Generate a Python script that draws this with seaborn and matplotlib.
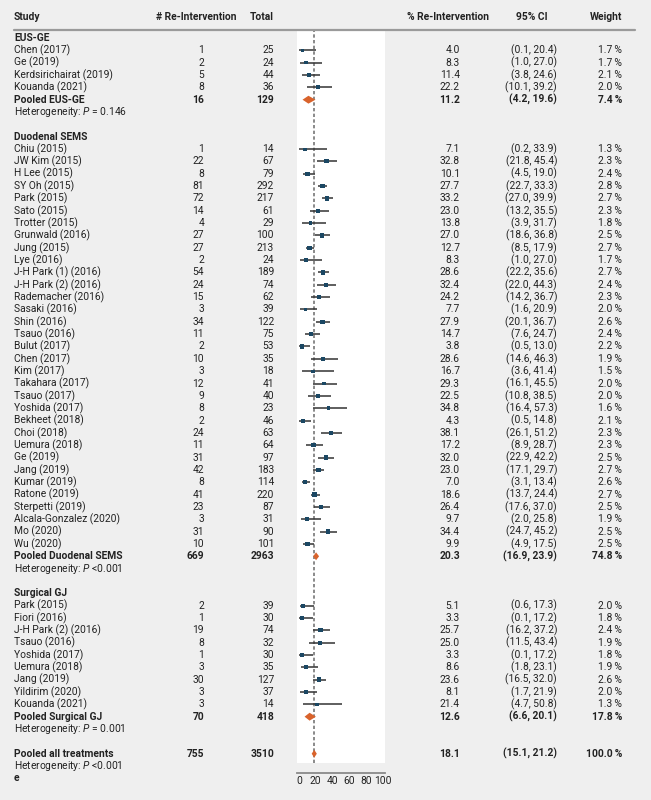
import matplotlib
matplotlib.use("Agg")
import matplotlib.pyplot as plt
import numpy as np
import pandas as pd
import seaborn as sns
from matplotlib.lines import Line2D
from matplotlib.transforms import blended_transform_factory

# ====================================================
# DATA
# ====================================================

groups = ["EUS-GE", "Duodenal SEMS", "Surgical GJ"]

eus_study = ["Chen (2017)", "Ge (2019)", "Kerdsirichairat (2019)", "Kouanda (2021)"]
eus_events = [1, 2, 5, 8]
eus_total = [25, 24, 44, 36]
eus_pct = [4.0, 8.3, 11.4, 22.2]
eus_lo = [0.1, 1.0, 3.8, 10.1]
eus_hi = [20.4, 27.0, 24.6, 39.2]
eus_weight = [1.7, 1.7, 2.1, 2.0]

sems_study = ["Chiu (2015)", "JW Kim (2015)", "H Lee (2015)", "SY Oh (2015)", "Park (2015)",
              "Sato (2015)", "Trotter (2015)", "Grunwald (2016)", "Jung (2015)", "Lye (2016)",
              "J-H Park (1) (2016)", "J-H Park (2) (2016)", "Rademacher (2016)", "Sasaki (2016)",
              "Shin (2016)", "Tsauo (2016)", "Bulut (2017)", "Chen (2017)", "Kim (2017)",
              "Takahara (2017)", "Tsauo (2017)", "Yoshida (2017)", "Bekheet (2018)", "Choi (2018)",
              "Uemura (2018)", "Ge (2019)", "Jang (2019)", "Kumar (2019)", "Ratone (2019)",
              "Sterpetti (2019)", "Alcala-Gonzalez (2020)", "Mo (2020)", "Wu (2020)"]
sems_events = [1, 22, 8, 81, 72, 14, 4, 27, 27, 2, 54, 24, 15, 3, 34, 11, 2, 10, 3, 12, 9, 8,
               2, 24, 11, 31, 42, 8, 41, 23, 3, 31, 10]
sems_total = [14, 67, 79, 292, 217, 61, 29, 100, 213, 24, 189, 74, 62, 39, 122, 75, 53, 35, 18,
              41, 40, 23, 46, 63, 64, 97, 183, 114, 220, 87, 31, 90, 101]
sems_pct = [7.1, 32.8, 10.1, 27.7, 33.2, 23.0, 13.8, 27.0, 12.7, 8.3, 28.6, 32.4, 24.2, 7.7,
            27.9, 14.7, 3.8, 28.6, 16.7, 29.3, 22.5, 34.8, 4.3, 38.1, 17.2, 32.0, 23.0, 7.0,
            18.6, 26.4, 9.7, 34.4, 9.9]
sems_lo = [0.2, 21.8, 4.5, 22.7, 27.0, 13.2, 3.9, 18.6, 8.5, 1.0, 22.2, 22.0, 14.2, 1.6, 20.1,
           7.6, 0.5, 14.6, 3.6, 16.1, 10.8, 16.4, 0.5, 26.1, 8.9, 22.9, 17.1, 3.1, 13.7, 17.6,
           2.0, 24.7, 4.9]
sems_hi = [33.9, 45.4, 19.0, 33.3, 39.9, 35.5, 31.7, 36.8, 17.9, 27.0, 35.6, 44.3, 36.7, 20.9,
           36.7, 24.7, 13.0, 46.3, 41.4, 45.5, 38.5, 57.3, 14.8, 51.2, 28.7, 42.2, 29.7, 13.4,
           24.4, 37.0, 25.8, 45.2, 17.5]
sems_weight = [1.3, 2.3, 2.4, 2.8, 2.7, 2.3, 1.8, 2.5, 2.7, 1.7, 2.7, 2.4, 2.3, 2.0, 2.6, 2.4,
               2.2, 1.9, 1.5, 2.0, 2.0, 1.6, 2.1, 2.3, 2.3, 2.5, 2.7, 2.6, 2.7, 2.5, 1.9, 2.5, 2.5]

gj_study = ["Park (2015)", "Fiori (2016)", "J-H Park (2) (2016)", "Tsauo (2016)", "Yoshida (2017)",
            "Uemura (2018)", "Jang (2019)", "Yildirim (2020)", "Kouanda (2021)"]
gj_events = [2, 1, 19, 8, 1, 3, 30, 3, 3]
gj_total = [39, 30, 74, 32, 30, 35, 127, 37, 14]
gj_pct = [5.1, 3.3, 25.7, 25.0, 3.3, 8.6, 23.6, 8.1, 21.4]
gj_lo = [0.6, 0.1, 16.2, 11.5, 0.1, 1.8, 16.5, 1.7, 4.7]
gj_hi = [17.3, 17.2, 37.2, 43.4, 17.2, 23.1, 32.0, 21.9, 50.8]
gj_weight = [2.0, 1.8, 2.4, 1.9, 1.8, 1.9, 2.6, 2.0, 1.3]

# pooled rows: EUS-GE, Duodenal SEMS, Surgical GJ, all treatments
pooled_label = ["Pooled EUS-GE", "Pooled Duodenal SEMS", "Pooled Surgical GJ", "Pooled all treatments"]
pooled_events = [16, 669, 70, 755]
pooled_total = [129, 2963, 418, 3510]
pooled_pct = [11.2, 20.3, 12.6, 18.1]
pooled_lo = [4.2, 16.9, 6.6, 15.1]
pooled_hi = [19.6, 23.9, 20.1, 21.2]
pooled_weight = [7.4, 74.8, 17.8, 100.0]
het_p = ["= 0.146", "<0.001", "= 0.001", "<0.001"]

# ====================================================
# ROW LAYOUT
# ====================================================

group_data = [
    (eus_study, eus_events, eus_total, eus_pct, eus_lo, eus_hi, eus_weight),
    (sems_study, sems_events, sems_total, sems_pct, sems_lo, sems_hi, sems_weight),
    (gj_study, gj_events, gj_total, gj_pct, gj_lo, gj_hi, gj_weight),
]

study_rows = []
pooled_rows = []
header_rows = []
het_rows = []
row = 0
for gi, (names, ev, tot, pct, lo, hi, w) in enumerate(group_data):
    header_rows.append(row)
    row += 1
    for i in range(len(names)):
        study_rows.append(dict(study=names[i], events=ev[i], total=tot[i], pct=pct[i],
                               lo=lo[i], hi=hi[i], weight=w[i], row=row))
        row += 1
    pooled_rows.append(row)
    het_rows.append(row + 1)
    row += 3
pooled_rows.append(row)
het_rows.append(row + 1)
e_row = row + 2

studies = pd.DataFrame(study_rows)
pooled = pd.DataFrame({"label": pooled_label, "events": pooled_events, "total": pooled_total,
                       "pct": pooled_pct, "lo": pooled_lo, "hi": pooled_hi,
                       "weight": pooled_weight, "row": pooled_rows})

# ====================================================
# STYLE
# ====================================================

sns.set_style("white")
plt.rcParams["font.family"] = ["Roboto", "DejaVu Sans"]
plt.rcParams["mathtext.fontset"] = "custom"
plt.rcParams["mathtext.rm"] = "Roboto"
plt.rcParams["mathtext.it"] = "Roboto:italic"
FS = 7.4
TXT = "#222222"

W, H = 651, 800
fig = plt.figure(figsize=(W / 100, H / 100), dpi=100)
fig.patch.set_facecolor("#efefef")

ax = fig.add_axes([297 / W, 1 - 763 / H, 88 / W, 732 / H])
ax.set_facecolor("white")
ax.set_xlim(-2.4, 102.4)
row_h = 12.34
ax.set_ylim((763 - 38) / row_h, -(38 - 31) / row_h)

# ====================================================
# FOREST MARKS
# ====================================================

ax.axvline(pooled_pct[-1], color="#777777", lw=1.2, ls=(0, (2, 1.4)), zorder=1)

ax.hlines(studies["row"], studies["lo"], studies["hi"], color="#333333", lw=1.1, zorder=2)
sns.scatterplot(data=studies, x="pct", y="row", size="weight", sizes=(5, 11), marker="s",
                color="#1b4763", linewidth=0, legend=False, ax=ax, zorder=3)

dh = 0.32
for _, p in pooled.iterrows():
    ax.fill([p["lo"], p["pct"], p["hi"], p["pct"]],
            [p["row"], p["row"] - dh, p["row"], p["row"] + dh],
            color="#d9632c", lw=0, zorder=3)

ax.set_xlabel("")
ax.set_ylabel("")
ax.set_yticks([])
ax.set_xticks([0, 20, 40, 60, 80, 100])
for s in ["left", "right", "top"]:
    ax.spines[s].set_visible(False)
ax.spines["bottom"].set_position(("outward", 7.2))
ax.spines["bottom"].set_color("#8a8a8a")
ax.spines["bottom"].set_linewidth(1.3)
ax.tick_params(axis="x", direction="in", length=6.5, width=1.2, color="#8a8a8a",
               labelsize=FS, labelcolor=TXT, pad=2)

# ====================================================
# TABLE TEXT
# ====================================================

tr = blended_transform_factory(fig.transFigure, ax.transData)
x_study = 14 / W
x_ev = 204 / W
x_tot = 274 / W
x_pct = 460 / W
x_ci = 557 / W
x_w = 622 / W


def put(x, y, s, ha="left", bold=False):
    fig.text(x, y, s, transform=tr, ha=ha, va="center", fontsize=FS, color=TXT,
             fontweight="bold" if bold else "normal")


# header
hy = 1 - 17 / H
for x, s, ha in [(x_study, "Study", "left"), (196 / W, "# Re-Intervention", "center"),
                 (x_tot, "Total", "right"), (448 / W, "% Re-Intervention", "center"),
                 (532 / W, "95% CI", "center"), (x_w, "Weight", "right")]:
    fig.text(x, hy, s, ha=ha, va="center", fontsize=FS, color=TXT, fontweight="bold")
fig.add_artist(Line2D([14 / W, 635 / W], [1 - 30 / H] * 2, color="#9a9a9a", lw=1.6))

for g, r in zip(groups, header_rows):
    put(x_study, r, g, bold=True)

for _, s in studies.iterrows():
    r = s["row"]
    put(x_study, r, s["study"])
    put(x_ev, r, str(s["events"]), "right")
    put(x_tot, r, str(s["total"]), "right")
    put(x_pct, r, f"{s['pct']:.1f}", "right")
    put(x_ci, r, f"({s['lo']:.1f}, {s['hi']:.1f})", "right")
    put(x_w, r, f"{s['weight']:.1f}\u2009%", "right")

for _, p in pooled.iterrows():
    r = p["row"]
    put(x_study, r, p["label"], bold=True)
    put(x_ev, r, str(p["events"]), "right", True)
    put(x_tot, r, str(p["total"]), "right", True)
    put(x_pct, r, f"{p['pct']:.1f}", "right", True)
    put(x_ci, r, f"({p['lo']:.1f}, {p['hi']:.1f})", "right", True)
    put(x_w, r, f"{p['weight']:.1f}\u2009%", "right", True)

for r, pv in zip(het_rows, het_p):
    put(x_study, r, "Heterogeneity: $P$ " + pv)

put(x_study, e_row, "e", bold=True)

fig.savefig("out.png", dpi=100, facecolor=fig.get_facecolor())
